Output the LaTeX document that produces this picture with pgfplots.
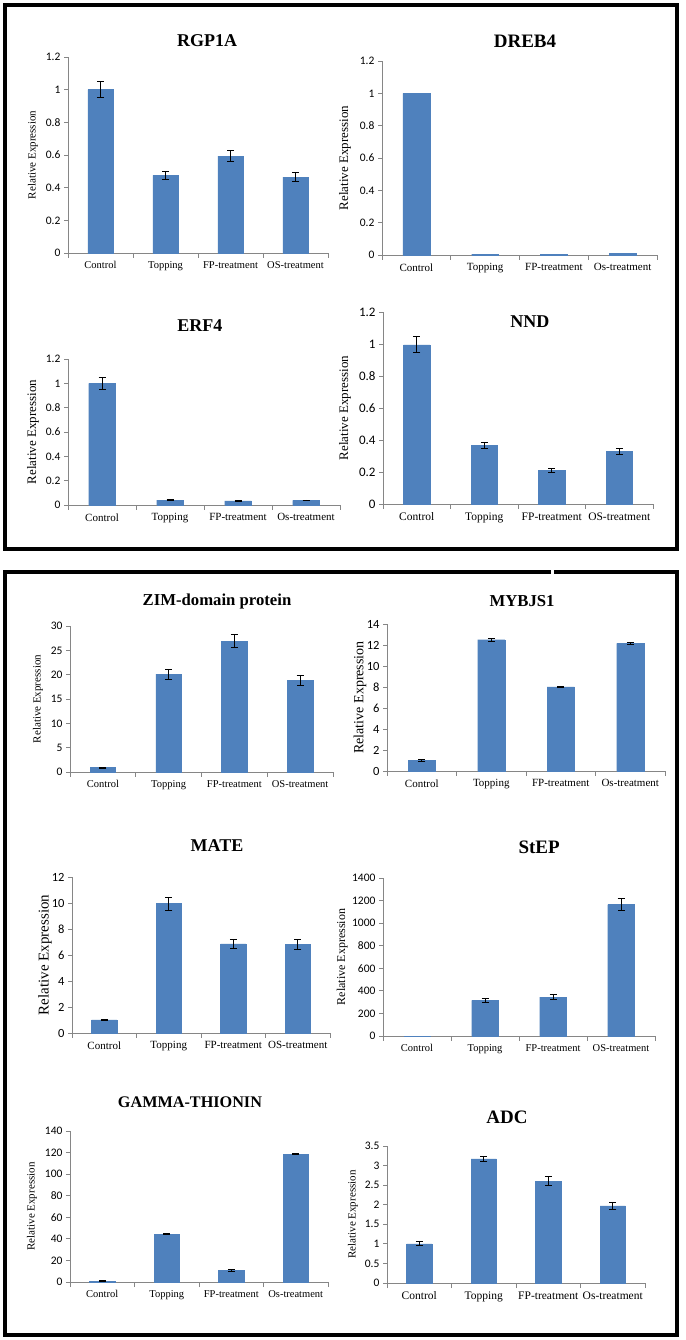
\documentclass[border=0pt]{standalone}
\usepackage{fontspec}
\setmainfont{Liberation Serif}
\newfontfamily\calibri{Carlito}
\usepackage{pgfplots}
\pgfplotsset{compat=1.18}
\definecolor{barblue}{HTML}{4F81BD}
\definecolor{axgray}{HTML}{868686}
\newcommand{\fs}[1]{\fontsize{#1}{#1}\selectfont}
\pgfplotsset{
 excel/.style={
  scale only axis, ybar, clip=false,
  axis lines*=left,
  axis line style={axgray, line width=0.8pt},
  ymin=0, xmin=-0.5, xmax=3.5,
  xtick={0,1,2,3},
  minor xtick={-0.5,0.5,1.5,2.5,3.5},
  major x tick style={draw=none},
  minor x tick style={axgray, line width=0.8pt},
  minor tick length=5pt, major tick length=4pt,
  tick align=outside,
  y tick style={axgray, line width=0.8pt},
  scaled y ticks=false,
  /pgf/number format/assume math mode=true,
  /pgf/number format/1000 sep={},
  yticklabel style={font=\calibri\fs{11.5}, text=black},
  xticklabel style={font=\fs{10.5}, text=black, yshift=-1pt},
  ylabel={Relative Expression},
  ylabel style={anchor=center, font=\fs{11}},
  title style={anchor=center, font=\bfseries\fs{17}},
 },
 bars/.style={fill=barblue, draw=barblue, bar width=0.39, bar shift=0pt,
  error bars/.cd, y dir=both, y explicit,
  error bar style={draw=black, line width=0.9pt},
  error mark options={rotate=90, mark size=3.5pt, draw=black, line width=0.9pt}},
 nobars/.style={fill=barblue, draw=barblue, bar width=0.39, bar shift=0pt},
}
\begin{document}
\begin{tikzpicture}
\useasboundingbox (0pt,0pt) rectangle (685pt,1340pt);
\fill[white] (0pt,0pt) rectangle (685pt,1340pt);
% frames
\draw[line width=3.2pt, black] (5pt,1335pt) rectangle (677pt,791pt);
\draw[line width=3.2pt, black] (5pt,768pt) rectangle (677pt,5pt);
\fill[white] (551pt,765pt) rectangle (554pt,771pt);

% 1 RGP1A
\begin{axis}[excel, at={(68pt,1087pt)}, anchor=south west, width=260pt, height=196pt,
 ymax=1.2, ytick distance=0.2,
 xticklabels={Control,Topping,FP-treatment,OS-treatment},
 title=RGP1A, title style={at={(axis description cs:0.535,1.051)}, font=\bfseries\fs{18}},
 ylabel style={at={(axis description cs:-0.135,0.5)}, font=\fs{11}}]
\addplot[bars] table[x=x,y=y,y error=e]{
x y e
0 1.000 0.050
1 0.475 0.025
2 0.593 0.033
3 0.465 0.025
};
\end{axis}

% 2 DREB4
\begin{axis}[excel, at={(382pt,1085pt)}, anchor=south west, width=275pt, height=194pt,
 ymax=1.2, ytick distance=0.2,
 xticklabels={Control,Topping,FP-treatment,Os-treatment},
 xticklabel style={font=\fs{11}},
 title=DREB4, title style={at={(axis description cs:0.52,1.072)}, font=\bfseries\fs{19}},
 ylabel style={at={(axis description cs:-0.135,0.5)}, font=\fs{13}}]
\addplot[nobars] table[x=x,y=y]{
x y
0 1.000
1 0.006
2 0.006
3 0.012
};
\end{axis}

% 3 ERF4
\begin{axis}[excel, at={(68pt,835pt)}, anchor=south west, width=272pt, height=146pt,
 ymax=1.2, ytick distance=0.2,
 xticklabels={Control,Topping,FP-treatment,Os-treatment},
 xticklabel style={font=\fs{11}},
 title=ERF4, title style={at={(axis description cs:0.485,1.185)}, font=\bfseries\fs{18}},
 ylabel style={at={(axis description cs:-0.129,0.5)}, font=\fs{13}}]
\addplot[bars] table[x=x,y=y,y error=e]{
x y e
0 1.000 0.050
1 0.040 0.005
2 0.033 0.004
3 0.038 0.003
};
\end{axis}

% 4 NND
\begin{axis}[excel, at={(383pt,836pt)}, anchor=south west, width=270pt, height=192pt,
 ymax=1.2, ytick distance=0.2,
 yticklabel style={font=\calibri\fs{13}},
 xticklabels={Control,Topping,FP-treatment,OS-treatment},
 xticklabel style={font=\fs{11.5}},
 title=NND, title style={at={(axis description cs:0.544,0.917)}, font=\bfseries\fs{18}},
 ylabel style={at={(axis description cs:-0.141,0.5)}, font=\fs{13}}]
\addplot[bars] table[x=x,y=y,y error=e]{
x y e
0 0.995 0.050
1 0.365 0.020
2 0.210 0.012
3 0.328 0.020
};
\end{axis}

% 5 ZIM-domain protein
\begin{axis}[excel, at={(70pt,568pt)}, anchor=south west, width=263pt, height=146pt,
 ymax=30, ytick distance=5,
 xticklabels={Control,Topping,FP-treatment,OS-treatment},
 title=ZIM-domain protein, title style={at={(axis description cs:0.559,1.13)}, font=\bfseries\fs{16.7}},
 ylabel style={at={(axis description cs:-0.122,0.5)}, font=\fs{11}}]
\addplot[bars] table[x=x,y=y,y error=e]{
x y e
0 0.9 0.10
1 20.1 1.0
2 26.9 1.3
3 18.8 1.1
};
\end{axis}

% 6 MYBJS1
\begin{axis}[excel, at={(387pt,569pt)}, anchor=south west, width=278pt, height=147pt,
 ymax=14, ytick distance=2,
 yticklabel style={font=\calibri\fs{12.5}},
 xticklabels={Control,Topping,FP-treatment,Os-treatment},
 xticklabel style={font=\fs{11}},
 title=MYBJS1, title style={at={(axis description cs:0.486,1.116)}, font=\bfseries\fs{16.7}},
 ylabel style={at={(axis description cs:-0.097,0.5)}, font=\fs{14}}]
\addplot[bars] table[x=x,y=y,y error=e]{
x y e
0 1.0 0.10
1 12.5 0.15
2 8.0 0.05
3 12.15 0.08
};
\end{axis}

% 7 MATE
\begin{axis}[excel, at={(72pt,307pt)}, anchor=south west, width=258pt, height=156pt,
 ymax=12, ytick distance=2,
 yticklabel style={font=\calibri\fs{12.5}},
 xticklabels={Control,Topping,FP-treatment,OS-treatment},
 xticklabel style={font=\fs{11}},
 title=MATE, title style={at={(axis description cs:0.562,1.16)}, font=\bfseries\fs{18}},
 ylabel style={at={(axis description cs:-0.105,0.5)}, font=\fs{15}}]
\addplot[bars] table[x=x,y=y,y error=e]{
x y e
0 1.0 0.05
1 9.95 0.50
2 6.85 0.35
3 6.80 0.40
};
\end{axis}

% 8 StEP
\begin{axis}[excel, at={(383pt,304pt)}, anchor=south west, width=272pt, height=158pt,
 ymax=1400, ytick distance=200,
 xticklabels={Control,Topping,FP-treatment,OS-treatment},
 title=StEP, title style={at={(axis description cs:0.574,1.158)}, font=\bfseries\fs{19}},
 ylabel style={at={(axis description cs:-0.15,0.5)}, font=\fs{12}}]
\addplot[nobars] table[x=x,y=y]{
x y
0 1
};
\addplot[bars] table[x=x,y=y,y error=e]{
x y e
1 315 20
2 345 20
3 1165 55
};
\end{axis}

% 9 GAMMA-THIONIN
\begin{axis}[excel, at={(70pt,58pt)}, anchor=south west, width=258pt, height=151pt,
 ymax=140, ytick distance=20,
 xticklabels={Control,Topping,FP-treatment,Os-treatment},
 title=GAMMA-THIONIN, title style={at={(axis description cs:0.465,1.152)}, font=\bfseries\fs{16.2}},
 ylabel style={at={(axis description cs:-0.147,0.5)}, font=\fs{11}}]
\addplot[bars] table[x=x,y=y,y error=e]{
x y e
0 0.9 0.3
1 44.5 0.5
2 10.8 0.6
3 118.5 0.5
};
\end{axis}

% 10 ADC
\begin{axis}[excel, at={(387pt,57pt)}, anchor=south west, width=258pt, height=137pt,
 ymax=3.5, ytick distance=0.5,
 xticklabels={Control,Topping,FP-treatment,Os-treatment},
 xticklabel style={font=\fs{11.5}},
 title=ADC, title style={at={(axis description cs:0.465,1.168)}, font=\bfseries\fs{19}},
 ylabel style={at={(axis description cs:-0.132,0.5)}, font=\fs{11}}]
\addplot[bars] table[x=x,y=y,y error=e]{
x y e
0 1.00 0.05
1 3.17 0.06
2 2.60 0.12
3 1.97 0.09
};
\end{axis}
\end{tikzpicture}
\end{document}
